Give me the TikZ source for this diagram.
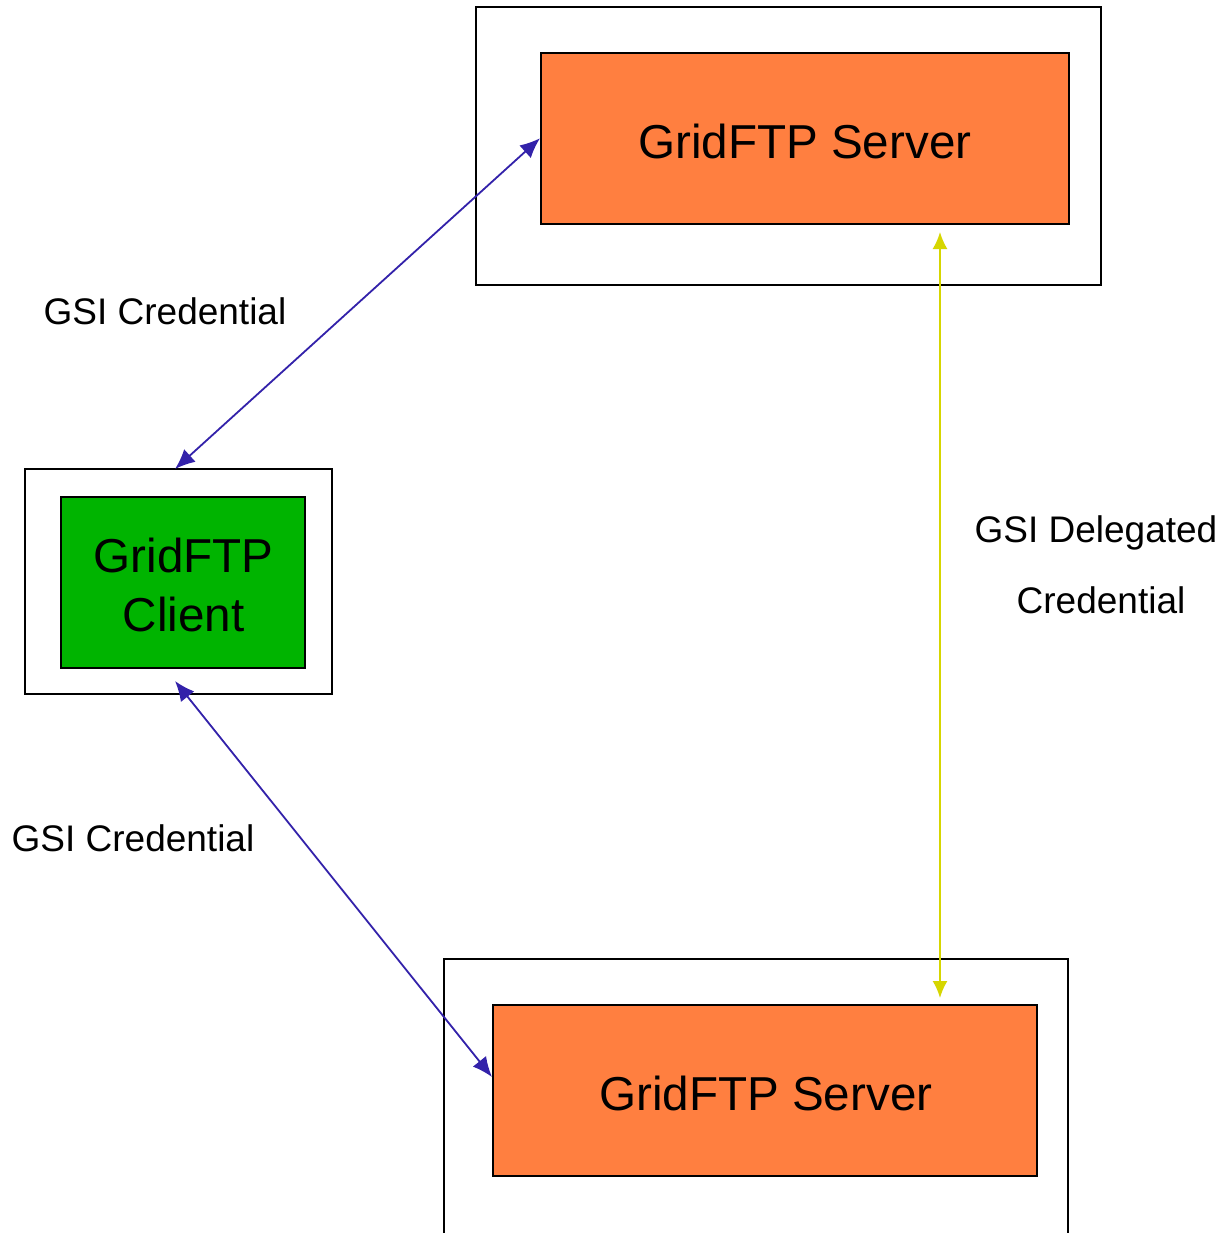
\documentclass[tikz,border=0pt]{standalone}
\usepackage{fontspec}
\setmainfont{Liberation Sans}
\usetikzlibrary{arrows.meta,calc}
\definecolor{srvorange}{RGB}{255,127,64}
\definecolor{cligreen}{RGB}{0,180,0}
\definecolor{credblue}{RGB}{51,34,170}
\definecolor{delyellow}{RGB}{214,214,0}
\begin{document}
\begin{tikzpicture}[x=0.5pt,y=-0.5pt,
  frame/.style={draw=black,line width=0.75pt,fill=white},
  inner/.style={draw=black,line width=0.75pt,inner sep=0pt,font=\fontsize{23.8}{29.5}\selectfont,align=center},
  lbl/.style={font=\fontsize{18.5}{33.5}\selectfont,inner sep=0pt},
  cred/.style={draw=credblue,line width=0.9pt,{Latex[length=10pt,width=8.5pt]}-{Latex[length=10pt,width=8.5pt]}},
  deleg/.style={draw=delyellow,line width=1pt,{Latex[length=8.5pt,width=7.5pt]}-{Latex[length=8.5pt,width=7.5pt]}}]
  \useasboundingbox (0,0) rectangle (1222,1233);
  \fill[white] (0,0) rectangle (1222,1233);
  \begin{scope}
    \clip (0,0) rectangle (1222,1233);
    % outer frames
    \draw[frame] (476,7) rectangle (1101,285);
    \draw[frame] (25,469) rectangle (332,694);
    \draw[frame] (444,959) rectangle (1068,1260);
  \end{scope}
  % hosts
  \node[inner,fill=srvorange,minimum width=264pt,minimum height=85.5pt,anchor=north west] (srvA) at (540,52) {};
  \node[inner,fill=cligreen,minimum width=122pt,minimum height=85.5pt,anchor=north west] (cli) at (60,496) {};
  \node[inner,fill=srvorange,minimum width=272pt,minimum height=85.5pt,anchor=north west] (srvB) at (492,1004) {};
  \node[inner,draw=none] (srvAtxt) at ($(srvA.center)+(0,3)$) {GridFTP Server};
  \node[inner,draw=none] (clitxt) at ($(cli.center)+(1,3)$) {GridFTP\\Client};
  \node[inner,draw=none] (srvBtxt) at ($(srvB.center)+(1,3)$) {GridFTP Server};
  % arrow end points
  \coordinate (cliTop) at (175,469);
  \coordinate (cliBot) at (175,681);
  \coordinate (srvBin) at (492,1077);
  \coordinate (ylTop) at (940,232);
  \coordinate (ylBot) at (940,998);
  % credential flows
  \draw[cred] (cliTop) -- (srvA.west);
  \draw[cred] (cliBot) -- (srvBin);
  \draw[deleg] (ylTop) -- (ylBot);
  % labels
  \node[lbl] (l1) at (165,311) {GSI Credential};
  \node[lbl] (l2) at (133,838) {GSI Credential};
  \node[lbl] (l3a) at (1096,533) {GSI Delegated};
  \node[lbl] (l3b) at (1101,600) {Credential};
\end{tikzpicture}
\end{document}
